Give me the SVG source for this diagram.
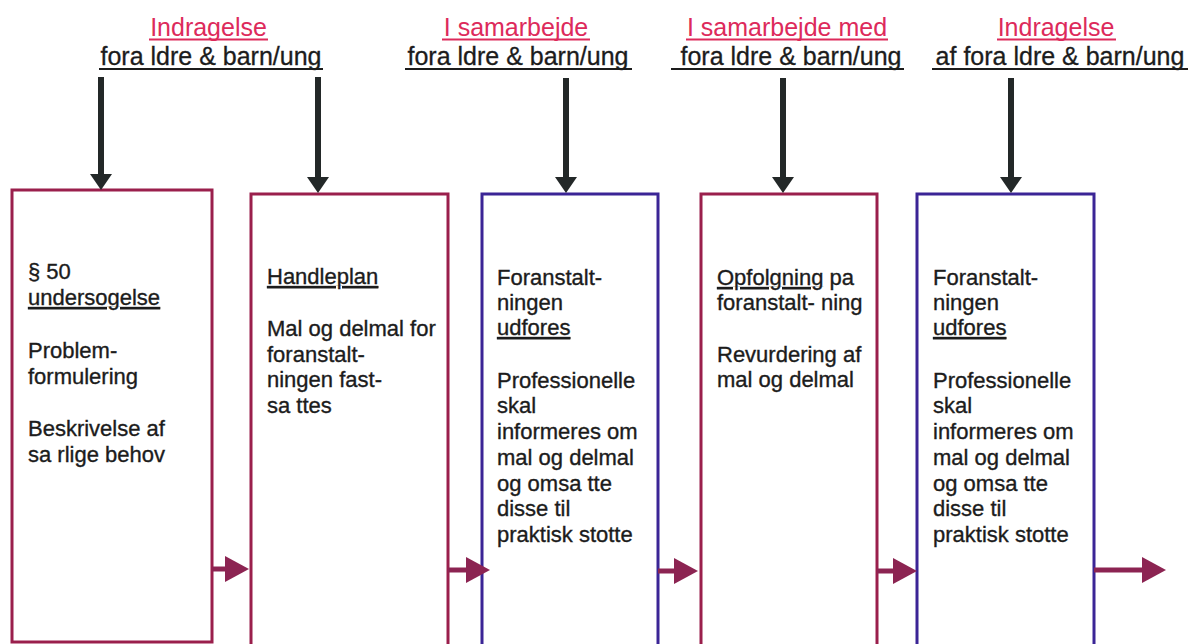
<svg xmlns="http://www.w3.org/2000/svg" width="1190" height="644" viewBox="0 0 1190 644">
<style>
.t{font-family:"Liberation Sans",Arial,sans-serif;font-size:25px}
.red{fill:#dd2a5b}
.blk{fill:#1c1c1c;stroke:#1c1c1c;stroke-width:0.3}
.ul{stroke-width:1.8}
.ulr{stroke:#dd2a5b}
.ulb{stroke:#1c1c1c}
.b{font-family:"Liberation Sans",Arial,sans-serif;font-size:22px;fill:#1c1c1c;stroke:#1c1c1c;stroke-width:0.35}
.boxr{fill:#fff;stroke:#9a1f4c;stroke-width:3}
.boxp{fill:#fff;stroke:#3b2596;stroke-width:3}
.va{stroke:#232828;stroke-width:6;fill:none}
.ha{stroke:#8c2452;stroke-width:5;fill:none}
</style>
<defs>
<marker id="hv" markerUnits="userSpaceOnUse" markerWidth="16" markerHeight="22" refX="0" refY="11" orient="auto">
<path d="M0,0 L16,11 L0,22 z" fill="#232828"/>
</marker>
<marker id="hh" markerUnits="userSpaceOnUse" markerWidth="24" markerHeight="26" refX="0" refY="13" orient="auto">
<path d="M0,0 L24,13 L0,26 z" fill="#8c2452"/>
</marker>
</defs>
<rect width="1190" height="644" fill="#fff"/>

<g id="title1">
<text class="t red" x="208.5" y="36" text-anchor="middle">Indragelse</text>
<line class="ul ulr" x1="149" y1="39.5" x2="268" y2="39.5"/>
<text class="t blk" x="211" y="65" text-anchor="middle">fora ldre &amp; barn/ung</text>
<line class="ul ulb" x1="99" y1="69" x2="323" y2="69"/>
</g>
<g id="title2">
<text class="t red" x="516" y="36" text-anchor="middle">I samarbejde</text>
<line class="ul ulr" x1="442" y1="39.5" x2="590" y2="39.5"/>
<text class="t blk" x="518" y="65" text-anchor="middle">fora ldre &amp; barn/ung</text>
<line class="ul ulb" x1="405" y1="69" x2="632" y2="69"/>
</g>
<g id="title3">
<text class="t red" x="787" y="36" text-anchor="middle">I samarbejde med</text>
<line class="ul ulr" x1="686" y1="39.5" x2="888" y2="39.5"/>
<text class="t blk" x="791" y="65" text-anchor="middle">fora ldre &amp; barn/ung</text>
<line class="ul ulb" x1="671" y1="69" x2="904" y2="69"/>
</g>
<g id="title4">
<text class="t red" x="1056" y="36" text-anchor="middle">Indragelse</text>
<line class="ul ulr" x1="997" y1="39.5" x2="1116" y2="39.5"/>
<text class="t blk" x="1060" y="65" text-anchor="middle">af fora ldre &amp; barn/ung</text>
<line class="ul ulb" x1="932" y1="69" x2="1188" y2="69"/>
</g>

<g id="box1">
<rect class="boxr" x="12" y="190" width="200" height="452"/>
<text class="b" x="28" y="279">§ 50</text>
<text class="b" x="28" y="305" text-decoration="underline">undersogelse</text>
<text class="b" x="28" y="358">Problem-</text>
<text class="b" x="28" y="384">formulering</text>
<text class="b" x="28" y="436">Beskrivelse af</text>
<text class="b" x="28" y="462">sa rlige behov</text>
</g>
<g id="box2">
<rect class="boxr" x="251" y="194" width="197" height="480"/>
<text class="b" x="267" y="284" text-decoration="underline">Handleplan</text>
<text class="b" x="267" y="336">Mal og delmal for</text>
<text class="b" x="267" y="362">foranstalt-</text>
<text class="b" x="267" y="387">ningen fast-</text>
<text class="b" x="267" y="413">sa ttes</text>
</g>
<g id="box3">
<rect class="boxp" x="482" y="194" width="176" height="480"/>
<text class="b" x="497" y="285">Foranstalt-</text>
<text class="b" x="497" y="310">ningen</text>
<text class="b" x="497" y="335" text-decoration="underline">udfores</text>
<text class="b" x="497" y="388">Professionelle</text>
<text class="b" x="497" y="413">skal</text>
<text class="b" x="497" y="439">informeres om</text>
<text class="b" x="497" y="465">mal og delmal</text>
<text class="b" x="497" y="491">og omsa tte</text>
<text class="b" x="497" y="516">disse til</text>
<text class="b" x="497" y="542">praktisk stotte</text>
</g>
<g id="box4">
<rect class="boxr" x="701" y="194" width="176" height="480"/>
<text class="b" x="717" y="285"><tspan text-decoration="underline">Opfolgning</tspan> pa</text>
<text class="b" x="717" y="310">foranstalt- ning</text>
<text class="b" x="717" y="362">Revurdering af</text>
<text class="b" x="717" y="387">mal og delmal</text>
</g>
<g id="box5">
<rect class="boxp" x="917" y="194" width="177" height="480"/>
<text class="b" x="933" y="285">Foranstalt-</text>
<text class="b" x="933" y="310">ningen</text>
<text class="b" x="933" y="335" text-decoration="underline">udfores</text>
<text class="b" x="933" y="388">Professionelle</text>
<text class="b" x="933" y="413">skal</text>
<text class="b" x="933" y="439">informeres om</text>
<text class="b" x="933" y="465">mal og delmal</text>
<text class="b" x="933" y="491">og omsa tte</text>
<text class="b" x="933" y="516">disse til</text>
<text class="b" x="933" y="542">praktisk stotte</text>
</g>

<g id="connectors">
<line class="va" x1="101" y1="77" x2="101" y2="174" marker-end="url(#hv)"/>
<line class="va" x1="318" y1="77" x2="318" y2="177" marker-end="url(#hv)"/>
<line class="va" x1="566" y1="78" x2="566" y2="177" marker-end="url(#hv)"/>
<line class="va" x1="783" y1="78" x2="783" y2="177" marker-end="url(#hv)"/>
<line class="va" x1="1011" y1="78" x2="1011" y2="177" marker-end="url(#hv)"/>
<line class="ha" x1="212" y1="569" x2="225" y2="569" marker-end="url(#hh)"/>
<line class="ha" x1="448" y1="570" x2="466" y2="570" marker-end="url(#hh)"/>
<line class="ha" x1="658" y1="571" x2="674" y2="571" marker-end="url(#hh)"/>
<line class="ha" x1="877" y1="571" x2="893" y2="571" marker-end="url(#hh)"/>
<line class="ha" x1="1094" y1="570" x2="1142" y2="570" marker-end="url(#hh)"/>
</g>
</svg>
